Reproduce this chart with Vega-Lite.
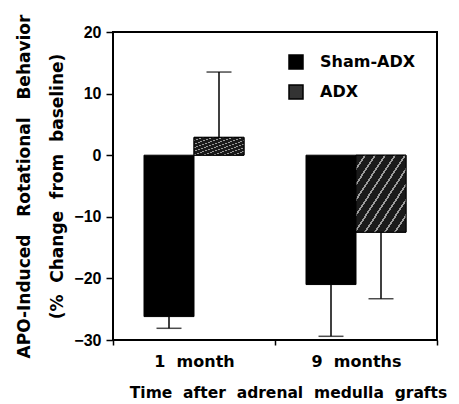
{
  "$schema": "https://vega.github.io/schema/vega-lite/v6.json",
  "width": 324,
  "height": 308,
  "autosize": "none",
  "padding": {"left": 113, "top": 32, "right": 22, "bottom": 64},
  "background": "white",
  "config": {
    "view": {"stroke": "black", "strokeWidth": 2},
    "font": "DejaVu Sans"
  },
  "data": {
    "values": [
      {"time": "1 month", "group": "Sham-ADX", "value": -26.2, "err": -28.1},
      {"time": "1 month", "group": "ADX", "value": 2.9, "err": 13.5},
      {"time": "9 months", "group": "Sham-ADX", "value": -21.0, "err": -29.4},
      {"time": "9 months", "group": "ADX", "value": -12.5, "err": -23.3}
    ]
  },
  "encoding": {
    "x": {
      "field": "time",
      "type": "nominal",
      "sort": ["1 month", "9 months"],
      "scale": {"paddingInner": 0, "paddingOuter": 0},
      "axis": {
        "labelAngle": 0,
        "labelFont": "DejaVu Sans",
        "labelFontSize": 16,
        "labelFontWeight": "bold",
        "labelColor": "black",
        "labelPadding": 8,
        "labelExpr": "replace(datum.label, ' ', '\u00a0\u00a0')",
        "tickBand": "extent",
        "tickSize": 5,
        "tickColor": "black",
        "tickWidth": 1.5,
        "domain": false,
        "title": "Time\u00a0 after\u00a0 adrenal\u00a0 medulla\u00a0 grafts",
        "titleFont": "DejaVu Sans",
        "titleFontSize": 15.5,
        "titleFontWeight": "bold",
        "titleColor": "black",
        "titlePadding": 16,
        "titleX": 175
      }
    },
    "xOffset": {
      "field": "group",
      "sort": ["Sham-ADX", "ADX"],
      "scale": {"paddingInner": 0, "paddingOuter": 0.62}
    }
  },
  "layer": [
    {
      "mark": {"type": "rule", "strokeWidth": 1.5, "color": "black"},
      "encoding": {
        "y": {"field": "value", "type": "quantitative", "scale": {"domain": [-30, 20]}},
        "y2": {"field": "err"}
      }
    },
    {
      "mark": {"type": "tick", "orient": "horizontal", "size": 25, "thickness": 1.5, "color": "black"},
      "encoding": {
        "y": {"field": "err", "type": "quantitative"}
      }
    },
    {
      "mark": {"type": "bar", "stroke": "black", "strokeWidth": 1},
      "encoding": {
        "y": {
          "field": "value",
          "type": "quantitative",
          "scale": {"domain": [-30, 20], "nice": false},
          "axis": {
            "values": [-30, -25, -20, -15, -10, -5, 0, 5, 10, 15, 20],
            "labelExpr": "datum.value % 10 === 0 ? datum.label : ''",
            "tickSize": {"condition": {"test": "datum.value % 10 === 0", "value": 7}, "value": 3},
            "tickColor": "black",
            "tickWidth": 1.5,
            "labelFont": "Liberation Sans",
            "labelFontSize": 16,
            "labelFontWeight": "bold",
            "labelColor": "black",
            "labelPadding": 5,
            "domain": false,
            "grid": false,
            "title": ["APO-Induced\u00a0\u00a0 Rotational\u00a0\u00a0 Behavior", "(%\u00a0 Change\u00a0 from\u00a0 baseline)"],
            "titleFont": "DejaVu Sans",
            "titleFontSize": 17,
            "titleFontWeight": "bold",
            "titleColor": "black",
            "titlePadding": 7,
            "titleLineHeight": 33
          }
        },
        "fill": {
          "field": "group",
          "type": "nominal",
          "scale": {"domain": ["Sham-ADX", "ADX"], "range": ["black", "#333333"]},
          "legend": {
            "orient": "none",
            "legendX": 175,
            "legendY": 22,
            "title": null,
            "symbolType": "square",
            "symbolSize": 196,
            "symbolStrokeColor": "black",
            "labelFont": "DejaVu Sans",
            "labelFontSize": 16,
            "labelFontWeight": "bold",
            "labelColor": "black",
            "labelOffset": 16,
            "rowPadding": 10
          }
        }
      }
    },
    {
      "transform": [{"filter": "datum.group === 'ADX'"}],
      "mark": {
        "type": "bar",
        "stroke": "black",
        "strokeWidth": 1,
        "fill": {
          "gradient": "linear",
          "x1": 0, "y1": 0, "x2": 1, "y2": 1,
          "stops": [
            {"offset": 0.0, "color": "#1a1a1a"}, {"offset": 0.08, "color": "#1a1a1a"}, {"offset": 0.08, "color": "#9a9a9a"}, {"offset": 0.1, "color": "#9a9a9a"},
            {"offset": 0.1, "color": "#1a1a1a"}, {"offset": 0.18, "color": "#1a1a1a"}, {"offset": 0.18, "color": "#9a9a9a"}, {"offset": 0.2, "color": "#9a9a9a"},
            {"offset": 0.2, "color": "#1a1a1a"}, {"offset": 0.28, "color": "#1a1a1a"}, {"offset": 0.28, "color": "#9a9a9a"}, {"offset": 0.3, "color": "#9a9a9a"},
            {"offset": 0.3, "color": "#1a1a1a"}, {"offset": 0.38, "color": "#1a1a1a"}, {"offset": 0.38, "color": "#9a9a9a"}, {"offset": 0.4, "color": "#9a9a9a"},
            {"offset": 0.4, "color": "#1a1a1a"}, {"offset": 0.48, "color": "#1a1a1a"}, {"offset": 0.48, "color": "#9a9a9a"}, {"offset": 0.5, "color": "#9a9a9a"},
            {"offset": 0.5, "color": "#1a1a1a"}, {"offset": 0.58, "color": "#1a1a1a"}, {"offset": 0.58, "color": "#9a9a9a"}, {"offset": 0.6, "color": "#9a9a9a"},
            {"offset": 0.6, "color": "#1a1a1a"}, {"offset": 0.68, "color": "#1a1a1a"}, {"offset": 0.68, "color": "#9a9a9a"}, {"offset": 0.7, "color": "#9a9a9a"},
            {"offset": 0.7, "color": "#1a1a1a"}, {"offset": 0.78, "color": "#1a1a1a"}, {"offset": 0.78, "color": "#9a9a9a"}, {"offset": 0.8, "color": "#9a9a9a"},
            {"offset": 0.8, "color": "#1a1a1a"}, {"offset": 0.88, "color": "#1a1a1a"}, {"offset": 0.88, "color": "#9a9a9a"}, {"offset": 0.9, "color": "#9a9a9a"},
            {"offset": 0.9, "color": "#1a1a1a"}, {"offset": 1.0, "color": "#1a1a1a"}
          ]
        }
      },
      "encoding": {
        "y": {"field": "value", "type": "quantitative"}
      }
    },
    {
      "mark": {"type": "rule", "strokeWidth": 1.5, "color": "black"},
      "encoding": {"y": {"datum": 0}}
    }
  ]
}
